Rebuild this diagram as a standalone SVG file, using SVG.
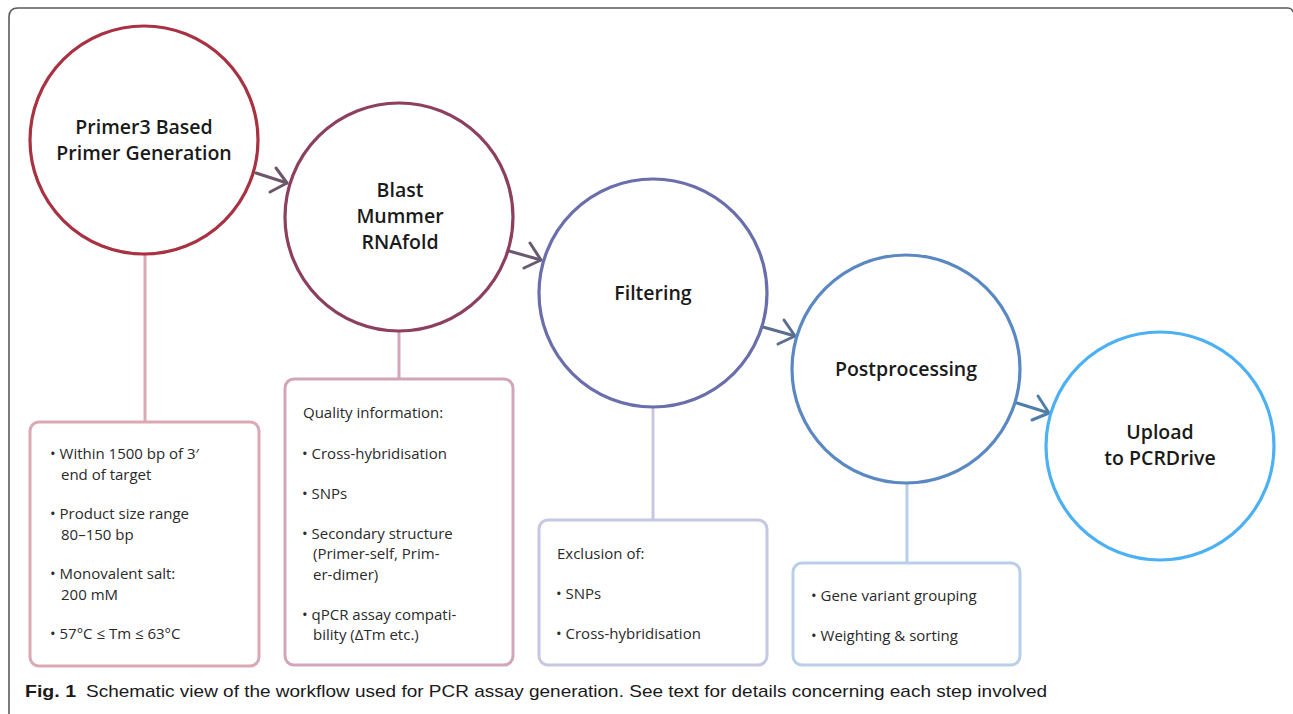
<svg xmlns="http://www.w3.org/2000/svg" width="1293" height="714" viewBox="0 0 1293 714">
<defs>
<style>
.circ{fill:#fff;stroke-width:3.2}
.ctext{font-family:"Open Sans","Liberation Sans",sans-serif;font-weight:600;font-size:19.5px;fill:#1a1a1a;text-anchor:middle}
.box{fill:#fff;stroke-width:3}
.btext{font-family:"Open Sans","Liberation Sans",sans-serif;font-size:15px;fill:#2a2a2a}
.conn{fill:none;stroke-width:3;stroke-linecap:round;stroke-linejoin:round}
.stem{stroke-width:3}
</style>
</defs>
<rect width="1293" height="714" fill="#fff"/>
<path d="M9,714 L9,17 Q9,8 18,8 L1288,8 Q1292,8 1293,12" fill="none" stroke="#5a5a5a" stroke-width="1.6"/>

<g id="connectors">
<line class="stem" x1="145" y1="255" x2="145" y2="422" stroke="#dba9b4"/>
<line class="stem" x1="399" y1="332" x2="399" y2="379" stroke="#d2a6b8"/>
<line class="stem" x1="653" y1="407" x2="653" y2="520" stroke="#c6c8e1"/>
<line class="stem" x1="907" y1="483" x2="907" y2="563" stroke="#b8cfea"/>
<g stroke="#6c5668" class="conn"><path d="M256,173 L287,183"/><path d="M276,168 L287,183 L270,192"/></g>
<g stroke="#685a73" class="conn"><path d="M509,251 L541,260"/><path d="M530,243 L541,260 L524,268"/></g>
<g stroke="#5a6e8e" class="conn"><path d="M763,327 L795,336"/><path d="M784,320 L795,336 L778,344"/></g>
<g stroke="#4f7fa6" class="conn"><path d="M1017,403 L1049,413"/><path d="M1038,396 L1049,413 L1032,420"/></g>
</g>

<g id="node-primer3">
<circle class="circ" cx="144" cy="140" r="114" stroke="#a83241"/>
<text class="ctext" x="144" y="134">Primer3 Based</text>
<text class="ctext" x="144" y="160">Primer Generation</text>
</g>
<g id="node-blast">
<circle class="circ" cx="399" cy="217" r="114" stroke="#8c3f5f"/>
<text class="ctext" x="400" y="197">Blast</text>
<text class="ctext" x="400" y="223">Mummer</text>
<text class="ctext" x="400" y="249">RNAfold</text>
</g>
<g id="node-filtering">
<circle class="circ" cx="653" cy="293" r="114" stroke="#6a6eaa"/>
<text class="ctext" x="653" y="300">Filtering</text>
</g>
<g id="node-post">
<circle class="circ" cx="906" cy="369" r="114" stroke="#5a88c2"/>
<text class="ctext" x="906" y="376">Postprocessing</text>
</g>
<g id="node-upload">
<circle class="circ" cx="1160" cy="446" r="114" stroke="#4cb1f2"/>
<text class="ctext" x="1160" y="439">Upload</text>
<text class="ctext" x="1160" y="465">to PCRDrive</text>
</g>

<g id="box-primer3">
<rect class="box" x="30" y="422" width="229" height="244" rx="9" stroke="#dba9b4"/>
<g class="btext">
<text x="50" y="459">• Within 1500 bp of 3′</text>
<text x="61" y="480">end of target</text>
<text x="50" y="519">• Product size range</text>
<text x="61" y="540">80–150 bp</text>
<text x="50" y="579">• Monovalent salt:</text>
<text x="61" y="600">200 mM</text>
<text x="50" y="639">• 57°C ≤ Tm ≤ 63°C</text>
</g>
</g>
<g id="box-blast">
<rect class="box" x="285" y="379" width="228" height="286" rx="9" stroke="#d2a6b8"/>
<g class="btext">
<text x="303" y="418">Quality information:</text>
<text x="302" y="459">• Cross-hybridisation</text>
<text x="302" y="499">• SNPs</text>
<text x="302" y="539">• Secondary structure</text>
<text x="313" y="559">(Primer-self, Prim-</text>
<text x="313" y="580">er-dimer)</text>
<text x="302" y="620">• qPCR assay compati-</text>
<text x="313" y="640">bility (ΔTm etc.)</text>
</g>
</g>
<g id="box-filtering">
<rect class="box" x="539" y="520" width="228" height="145" rx="9" stroke="#c6c8e1"/>
<g class="btext">
<text x="557" y="559">Exclusion of:</text>
<text x="556" y="599">• SNPs</text>
<text x="556" y="639">• Cross-hybridisation</text>
</g>
</g>
<g id="box-post">
<rect class="box" x="793" y="563" width="227" height="102" rx="9" stroke="#b8cfea"/>
<g class="btext">
<text x="811" y="601">• Gene variant grouping</text>
<text x="811" y="641">• Weighting &amp; sorting</text>
</g>
</g>

<g id="caption">
<text x="25" y="697" font-family="'Liberation Sans',sans-serif" font-weight="bold" font-size="17" fill="#1a1a1a" textLength="51" lengthAdjust="spacingAndGlyphs">Fig. 1</text>
<text x="86" y="697" font-family="'Liberation Sans',sans-serif" font-size="17" fill="#1a1a1a" textLength="961" lengthAdjust="spacingAndGlyphs">Schematic view of the workflow used for PCR assay generation. See text for details concerning each step involved</text>
</g>
</svg>
